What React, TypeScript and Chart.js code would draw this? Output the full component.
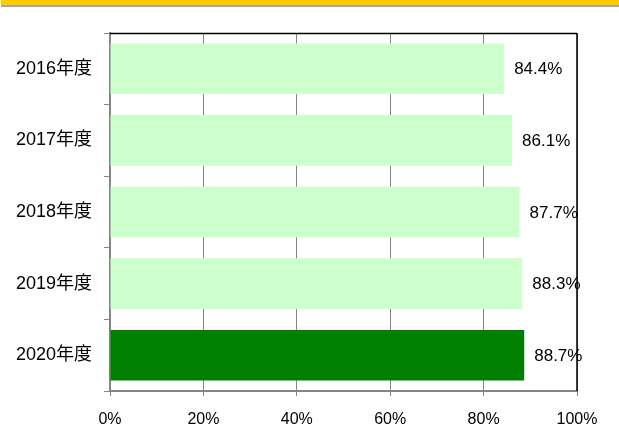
import React, { useEffect, useRef } from "react";
import { Chart, registerables } from "chart.js";

Chart.register(...registerables);

const categories = ["2016年度", "2017年度", "2018年度", "2019年度", "2020年度"];
const values = [84.4, 86.1, 87.7, 88.3, 88.7];
const barColors = ["#CCFFCC", "#CCFFCC", "#CCFFCC", "#CCFFCC", "#008000"];
const xTickValues = [0, 20, 40, 60, 80, 100];

const GRAY = "#858585";

const decorPlugin = {
  id: "decor",
  beforeDraw(chart: any) {
    const ctx = chart.ctx;
    ctx.save();
    ctx.fillStyle = "#FFFFFF";
    ctx.fillRect(0, 0, chart.width, chart.height);
    ctx.fillStyle = "#FFCC00";
    ctx.fillRect(1, 0, chart.width - 1, 5);
    ctx.fillStyle = "#A6A6A6";
    ctx.fillRect(1, 5, chart.width - 1, 2);
    ctx.restore();
  },
  afterDraw(chart: any) {
    const ctx = chart.ctx;
    const a = chart.chartArea;
    ctx.save();
    ctx.strokeStyle = "#000000";
    ctx.lineWidth = 1.5;
    ctx.beginPath();
    ctx.moveTo(a.left, a.top + 0.5);
    ctx.lineTo(a.right, a.top + 0.5);
    ctx.moveTo(a.right, a.top);
    ctx.lineTo(a.right, a.bottom);
    ctx.stroke();
    // data labels
    const meta = chart.getDatasetMeta(0);
    ctx.fillStyle = "#000000";
    ctx.font = "17px 'Liberation Sans', 'Noto Sans CJK JP', sans-serif";
    ctx.textAlign = "left";
    ctx.textBaseline = "middle";
    meta.data.forEach((bar: any, i: number) => {
      ctx.fillText(values[i].toFixed(1) + "%", bar.x + 10, bar.y + 1);
    });
    ctx.restore();
  },
};

export default function App() {
  const ref = useRef<HTMLCanvasElement>(null);
  useEffect(() => {
    if (!ref.current) return;
    const chart = new Chart(ref.current, {
      type: "bar",
      data: {
        labels: categories,
        datasets: [
          {
            data: values,
            backgroundColor: barColors,
            borderWidth: 0,
            barPercentage: 0.707,
            categoryPercentage: 1,
          },
        ],
      },
      options: {
        indexAxis: "y",
        animation: false,
        responsive: false,
        maintainAspectRatio: false,
        layout: { padding: { top: 33, right: 42, left: 0, bottom: 0 } },
        plugins: {
          legend: { display: false },
          tooltip: { enabled: false },
        },
        scales: {
          x: {
            type: "linear",
            min: 0,
            max: 100,
            afterBuildTicks: (scale: any) => {
              scale.ticks = xTickValues.map((v) => ({ value: v }));
            },
            afterFit: (scale: any) => {
              scale.height = 48;
            },
            ticks: {
              callback: (v: any) => v + "%",
              color: "#000000",
              font: { family: "'Liberation Sans', sans-serif", size: 16 },
              padding: 14,
              maxRotation: 0,
            },
            grid: {
              color: GRAY,
              lineWidth: 1,
              tickLength: 5,
              drawTicks: true,
            },
            border: { display: true, color: GRAY, width: 2 },
          },
          y: {
            type: "category",
            offset: true,
            afterFit: (scale: any) => {
              scale.width = 110;
            },
            ticks: {
              color: "#000000",
              font: { family: "'Liberation Sans', 'Noto Sans CJK JP', sans-serif", size: 18 },
              padding: 12,
            },
            grid: {
              offset: true,
              drawOnChartArea: false,
              color: GRAY,
              tickLength: 6,
              lineWidth: 1,
            },
            border: { display: true, color: GRAY, width: 2 },
          },
        },
      },
      plugins: [decorPlugin],
    } as any);
    return () => chart.destroy();
  }, []);
  return (
    <div style={{ position: "absolute", left: 0, top: 0, width: 619, height: 439 }}>
      <canvas ref={ref} width={619} height={439} style={{ display: "block" }} />
    </div>
  );
}
